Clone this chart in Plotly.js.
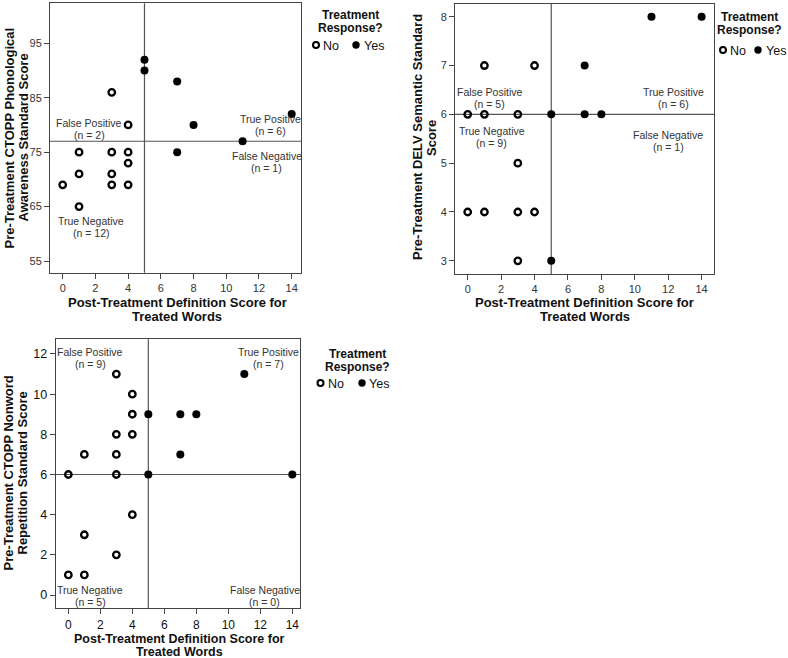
<!DOCTYPE html>
<html>
<head>
<meta charset="utf-8">
<script src="https://cdn.plot.ly/plotly-3.0.1.min.js"></script>
<style>html,body{margin:0;padding:0;background:#fff;}#chart{width:788px;height:658px;}</style>
</head>
<body>
<div id="chart"></div>
<script>
// ---------- data ----------
// Top-left: CTOPP Phonological Awareness
var tlNoX  = [3, 4, 1, 3, 4, 4, 1, 3, 0, 3, 4, 1];
var tlNoY  = [86, 80, 75, 75, 75, 73, 71, 71, 69, 69, 69, 65];
var tlYesX = [5, 5, 7, 8, 14, 11, 7];
var tlYesY = [92, 90, 88, 80, 82, 77, 75];
// Top-right: DELV Semantic
var trNoX  = [1, 4, 0, 1, 3, 3, 0, 1, 3, 4, 3];
var trNoY  = [7, 7, 6, 6, 6, 5, 4, 4, 4, 4, 3];
var trYesX = [11, 14, 7, 5, 7, 8, 5];
var trYesY = [8, 8, 7, 6, 6, 6, 3];
// Bottom-left: CTOPP Nonword Repetition
var blNoX  = [3, 4, 4, 3, 4, 1, 3, 0, 3, 4, 1, 3, 0, 1];
var blNoY  = [11, 10, 9, 8, 8, 7, 7, 6, 6, 4, 3, 2, 1, 1];
var blYesX = [11, 5, 7, 8, 7, 5, 14];
var blYesY = [11, 9, 9, 9, 7, 6, 6];

var xCut = 5;
var tlYCut = 77, trYCut = 6, blYCut = 6;

var xTicks   = [0, 2, 4, 6, 8, 10, 12, 14];
var tlYTicks = [55, 65, 75, 85, 95];
var trYTicks = [3, 4, 5, 6, 7, 8];
var blYTicks = [0, 2, 4, 6, 8, 10, 12];

var quadLabels = ["False Positive", "True Positive", "True Negative", "False Negative"];
var tlCounts = ["(n = 2)", "(n = 6)", "(n = 12)", "(n = 1)"];
var trCounts = ["(n = 5)", "(n = 6)", "(n = 9)", "(n = 1)"];
var blCounts = ["(n = 9)", "(n = 7)", "(n = 5)", "(n = 0)"];

var xTitleLines = ["Post-Treatment Definition Score for", "Treated Words"];
var tlYTitle = ["Pre-Treatment CTOPP Phonological", "Awareness Standard Score"];
var trYTitle = ["Pre-Treatment DELV Semantic Standard", "Score"];
var blYTitle = ["Pre-Treatment CTOPP Nonword", "Repetition Standard Score"];
var legendTitle = ["Treatment", "Response?"];
var legendItems = ["No", "Yes"];

// ---------- helpers ----------
var W = 788, H = 658;
function px(x) { return x / W; }
function py(y) { return 1 - y / H; }
var FONT = "Arial, 'Liberation Sans', sans-serif";

function noTrace(x, y, xa, ya) {
  return {x: x, y: y, xaxis: xa, yaxis: ya, type: "scatter", mode: "markers", showlegend: false,
    hoverinfo: "x+y", cliponaxis: false,
    marker: {symbol: "circle-open", size: 6.5, color: "#000", line: {width: 2.3, color: "#000"}}};
}
function yesTrace(x, y, xa, ya) {
  return {x: x, y: y, xaxis: xa, yaxis: ya, type: "scatter", mode: "markers", showlegend: false,
    hoverinfo: "x+y", cliponaxis: false,
    marker: {symbol: "circle", size: 8, color: "#000", line: {width: 0}}};
}

var data = [
  noTrace(tlNoX, tlNoY, "x", "y"), yesTrace(tlYesX, tlYesY, "x", "y"),
  noTrace(trNoX, trNoY, "x2", "y2"), yesTrace(trYesX, trYesY, "x2", "y2"),
  noTrace(blNoX, blNoY, "x3", "y3"), yesTrace(blYesX, blYesY, "x3", "y3")
];

function xAxis(domain, range, anchor, size, color) {
  return {domain: domain, range: range, anchor: anchor, tickvals: xTicks, ticks: "outside", ticklen: 5,
    tickcolor: "#444", tickwidth: 1, showline: true, mirror: true, linecolor: "#444", linewidth: 1,
    showgrid: false, zeroline: false, tickfont: {family: FONT, size: size, color: color}, fixedrange: true};
}
function yAxis(domain, range, anchor, vals, size, color) {
  return {domain: domain, range: range, anchor: anchor, tickvals: vals, ticks: "outside", ticklen: 5,
    tickcolor: "#444", tickwidth: 1, showline: true, mirror: true, linecolor: "#444", linewidth: 1,
    showgrid: false, zeroline: false, tickfont: {family: FONT, size: size, color: color}, fixedrange: true};
}

var layout = {
  width: W, height: H, margin: {l: 0, r: 0, t: 0, b: 0},
  paper_bgcolor: "#fff", plot_bgcolor: "#fff", showlegend: false,
  font: {family: FONT},
  xaxis:  xAxis([px(50), px(301)], [-0.776, 14.57], "y", 11, "#333"),
  yaxis:  yAxis([py(272.7), py(3.3)], [52.85, 102.35], "x", tlYTicks, 11, "#333"),
  xaxis2: xAxis([px(455), px(714.3)], [-0.76, 14.76], "y2", 11, "#333"),
  yaxis2: yAxis([py(274), py(4)], [2.73, 8.26], "x2", trYTicks, 11, "#333"),
  xaxis3: xAxis([px(55.7), px(300)], [-0.79, 14.48], "y3", 12, "#111"),
  yaxis3: yAxis([py(608.3), py(339.3)], [-0.66, 12.73], "x3", blYTicks, 12.5, "#111"),
  shapes: [], annotations: []
};

// reference lines
[["x", "y", tlYCut], ["x2", "y2", trYCut], ["x3", "y3", blYCut]].forEach(function (p) {
  layout.shapes.push({type: "line", layer: "below", xref: p[0], yref: p[1] + " domain", x0: xCut, x1: xCut, y0: 0, y1: 1,
    line: {color: "#555", width: 1.2}});
  layout.shapes.push({type: "line", layer: "below", xref: p[0] + " domain", yref: p[1], x0: 0, x1: 1, y0: p[2], y1: p[2],
    line: {color: "#555", width: 1.2}});
});

function ann(text, x, y, xref, yref, opts) {
  var a = {text: text, x: x, y: y, xref: xref, yref: yref, showarrow: false, xanchor: "center", yanchor: "middle",
    font: {family: FONT, size: 10.5, color: "#333"}};
  for (var k in opts) a[k] = opts[k];
  layout.annotations.push(a);
}

// quadrant labels: [x, yLine1, yLine2] in data units
function quad(xa, ya, counts, pos) {
  for (var i = 0; i < 4; i++) {
    ann(quadLabels[i], pos[i][0], pos[i][1], xa, ya, {});
    ann(counts[i], pos[i][0], pos[i][2], xa, ya, {});
  }
}
quad("x", "y", tlCounts, [[1.63, 80.41, 78.2], [12.72, 81.09, 78.88], [1.73, 62.41, 60.2], [12.47, 74.23, 72.02]]);
quad("x2", "y2", trCounts, [[1.33, 6.463, 6.217], [12.3, 6.457, 6.211], [1.44, 5.664, 5.418], [12.0, 5.576, 5.33]]);
quad("x3", "y3", blCounts, [[1.36, 12.12, 11.52], [12.5, 12.12, 11.52], [1.36, 0.249, -0.351], [12.29, 0.249, -0.351]]);

// axis titles
function xTitle(cx, y1, size, gap) {
  var f = {family: FONT, size: size, color: "#111"};
  ann("<b>" + xTitleLines[0] + "</b>", px(cx), py(y1), "paper", "paper", {font: f});
  ann("<b>" + xTitleLines[1] + "</b>", px(cx), py(y1 + gap), "paper", "paper", {font: f});
}
function yTitle(lines, x1, cy) {
  var f = {family: FONT, size: 13, color: "#111"};
  ann("<b>" + lines[0] + "</b>", px(x1), py(cy), "paper", "paper", {font: f, textangle: -90});
  ann("<b>" + lines[1] + "</b>", px(x1 + 14), py(cy), "paper", "paper", {font: f, textangle: -90});
}
xTitle(177, 302.5, 13, 14.5);
xTitle(584.5, 302.5, 13, 14.5);
xTitle(179, 639, 12.5, 12.5);
yTitle(tlYTitle, 8.5, 138);
yTitle(trYTitle, 417.5, 137.5);
yTitle(blYTitle, 7.5, 473);

// legends
function legend(cx, yT, yItems, openX, noX, fillX, yesX) {
  var f = {family: FONT, size: 12, color: "#111"};
  ann("<b>" + legendTitle[0] + "</b>", px(cx), py(yT), "paper", "paper", {font: f});
  ann("<b>" + legendTitle[1] + "</b>", px(cx), py(yT + 13.5), "paper", "paper", {font: f});
  layout.shapes.push({type: "circle", xref: "paper", yref: "paper", xsizemode: "pixel", ysizemode: "pixel",
    xanchor: px(openX), yanchor: py(yItems), x0: -3, x1: 3, y0: -3, y1: 3,
    line: {color: "#000", width: 2}, fillcolor: "#fff"});
  layout.shapes.push({type: "circle", xref: "paper", yref: "paper", xsizemode: "pixel", ysizemode: "pixel",
    xanchor: px(fillX), yanchor: py(yItems), x0: -3.7, x1: 3.7, y0: -3.7, y1: 3.7,
    line: {color: "#000", width: 0}, fillcolor: "#000"});
  ann(legendItems[0], px(noX), py(yItems + 1), "paper", "paper", {xanchor: "left", font: {family: FONT, size: 12.5, color: "#111"}});
  ann(legendItems[1], px(yesX), py(yItems + 1), "paper", "paper", {xanchor: "left", font: {family: FONT, size: 12.5, color: "#111"}});
}
legend(350, 15, 45, 316, 321, 356, 362);
legend(749, 17, 50, 723, 728, 758, 764);
legend(357, 354, 383, 320.5, 326, 362, 367);

Plotly.newPlot("chart", data, layout, {staticPlot: true, displayModeBar: false});
</script>
</body>
</html>
